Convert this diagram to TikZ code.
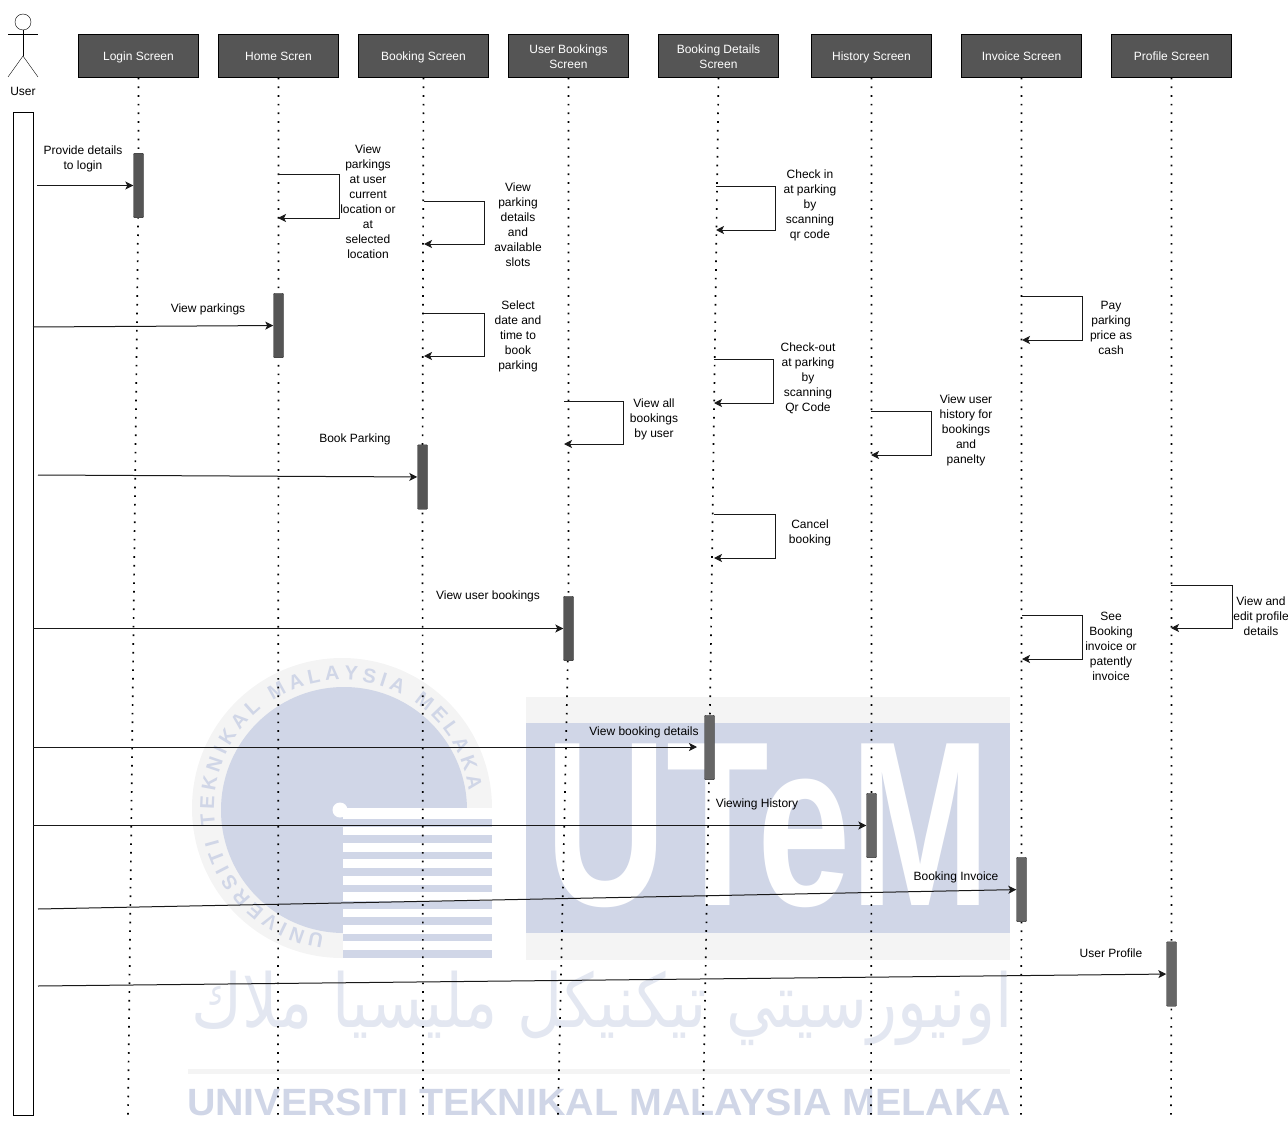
\documentclass[tikz,border=0pt]{standalone}
\usepackage{fontspec}
\usepackage{xcolor}
\usepackage{tikz}
\usetikzlibrary{arrows.meta,decorations.text}
\setmainfont{Liberation Sans}
\newfontfamily\jawifont[Script=Arabic]{DejaVu Sans}
\TeXXeTstate=1
\definecolor{headfill}{HTML}{555555}
\definecolor{wmblue}{HTML}{D0D6E7}
\definecolor{wmpale}{HTML}{F4F4F4}
\tikzset{
  lbl/.style={font=\fontsize{12}{15}\selectfont,align=center,inner sep=0pt,yshift=-0.7pt},
  headbox/.style={draw=black,fill=headfill,text=white,minimum height=43pt,inner sep=0pt,align=center,font=\fontsize{12}{15}\selectfont},
  barbox/.style={draw=black!80,fill=headfill,rounded corners=1pt,minimum width=10pt,minimum height=64.5pt,inner sep=0pt},
  lifeline/.style={line width=1.7pt,dash pattern=on 1.7pt off 7pt},
  msg/.style={->,line width=1pt,draw=black!90},
}
\newcommand{\headnode}[4]{
  \node[headbox,minimum width=#3pt] (#1) at #2 {\rule{0pt}{11.5pt}#4\vphantom{g}};
}
\newcommand{\selfcall}[5]{
  \coordinate (#1s) at (#2,#3);
  \coordinate (#1c) at (#4,#5);
  \coordinate (#1e) at (#2,#5);
  \draw[msg] (#1s) -| (#1c) -- (#1e);
}
\newcommand{\usercall}[3]{
  \coordinate (#1) at #2;
  \draw[msg] (#1) -- (#3);
}

\begin{document}
\begin{tikzpicture}[x=1pt,y=-1pt,>={Stealth[length=8pt,width=8pt,inset=2pt]}]
  \useasboundingbox (0,0) rectangle (1288,1121);
  % watermark
  \coordinate (wmcentre) at (342,808);
  \fill[wmpale] (wmcentre) circle[radius=150pt];
  \fill[wmblue] (344,810) circle[radius=123pt];
  \fill[white] (343,808) rectangle (495,960);
  \foreach \i in {0,...,8}
    \fill[wmblue] (343,{819+16.4*\i}) rectangle (492,{826.5+16.4*\i});
  \node[circle,fill=white,minimum size=15pt,inner sep=0pt] (wmdot) at (340,810) {};
  \path[decorate,decoration={text along path,text align={fit to path},
    text={|\fontsize{20}{20}\selectfont\bfseries\color{wmblue}|UNIVERSITI TEKNIKAL MALAYSIA MELAKA}}]
    (wmcentre) ++(262:128pt) arc[start angle=262,end angle=8,radius=128pt];
  \fill[wmpale] (526,697) rectangle (1010,960);
  \fill[wmblue] (526,723) rectangle (1010,933);
  \node[inner sep=0pt,xscale=0.715,text=white,font=\fontsize{235}{235}\selectfont\bfseries] (wmutem) at (768,826) {UTeM};
  \node[inner sep=0pt,yscale=1.2,text=wmblue!60,font=\fontsize{62}{62}\selectfont\jawifont] (wmjawi) at (602,1008) {\beginR اونيورسيتي تيكنيكل مليسيا ملاك\endR};
  \fill[wmpale] (188,1069) rectangle (1010,1074);
  \node[inner sep=0pt,xscale=1.037,text=wmblue,font=\fontsize{38}{38}\selectfont\bfseries] (wmname) at (599,1102) {UNIVERSITI TEKNIKAL MALAYSIA MELAKA};
  % actor
  \node[circle,draw,minimum size=16pt,inner sep=0pt] (userhead) at (23,22) {};
  \coordinate (armL) at (8,34);
  \coordinate (armR) at (38,34);
  \coordinate (hip) at (23,56);
  \coordinate (legL) at (8,77);
  \coordinate (legR) at (38,77);
  \draw (userhead) -- (hip);
  \draw (armL) -- (armR);
  \draw (legL) -- (hip) -- (legR);
  \node[lbl] (userlabel) at (23,91) {User};
  \node[draw=black,fill=white,minimum width=20pt,minimum height=1003pt,inner sep=0pt] (userbox) at (23.5,613.5) {};
  % screens
  \headnode{login}{(138.5,56)}{120}{Login Screen}
  \headnode{home}{(278.5,56)}{120}{Home Scren}
  \headnode{booking}{(423.5,56)}{130}{Booking Screen}
  \headnode{userbook}{(568.5,56)}{120}{User Bookings\\Screen}
  \headnode{details}{(718.5,56)}{120}{Booking Details\\Screen}
  \headnode{history}{(871.5,56)}{120}{History Screen}
  \headnode{invoice}{(1021.5,56)}{120}{Invoice Screen}
  \headnode{profile}{(1171.5,56)}{120}{Profile Screen}
  % activation bars
  \coordinate (loginend) at (128,1115);
  \coordinate (homeend) at (278,1115);
  \coordinate (bookingend) at (423,1115);
  \coordinate (userbookend) at (558,1115);
  \coordinate (detailsend) at (703,1115);
  \coordinate (historyend) at (871,1115);
  \coordinate (invoiceend) at (1021,1115);
  \coordinate (profileend) at (1171,1115);
  \coordinate (loginbar) at (138.5,185.5);
  \coordinate (homebar) at (278.5,325.5);
  \coordinate (bookingbar) at (422.5,477);
  \coordinate (userbookbar) at (568.5,628.5);
  \coordinate (detailsbar) at (709.5,747.5);
  \coordinate (historybar) at (871.5,825.5);
  \coordinate (invoicebar) at (1021.5,889.5);
  \coordinate (profilebar) at (1171.5,974);
  \foreach \s in {login,home,booking,userbook,details,history,invoice,profile}
    \draw[lifeline] (\s.south) -- (\s bar) -- (\s end);
  \node[barbox] (loginact) at (loginbar) {};
  \node[barbox] (homeact) at (homebar) {};
  \node[barbox] (bookingact) at (bookingbar) {};
  \node[barbox] (userbookact) at (userbookbar) {};
  \node[barbox,fill=black!60] (detailsact) at (detailsbar) {};
  \node[barbox,fill=black!60] (historyact) at (historybar) {};
  \node[barbox,fill=black!60] (invoiceact) at (invoicebar) {};
  \node[barbox,fill=black!60] (profileact) at (profilebar) {};
  % user calls
  \usercall{ua}{(37,185.5)}{loginact}
  \usercall{ub}{(33,327)}{homeact}
  \usercall{uc}{(38,475)}{bookingact}
  \usercall{ud}{(33,628.5)}{userbookact}
  \coordinate (detailstip) at (697,747);
  \usercall{ue}{(33,747)}{detailstip}
  \usercall{uf}{(33,825.5)}{historyact}
  \usercall{ug}{(38,909)}{invoiceact}
  \usercall{uh}{(38,986)}{profileact}
  \node[lbl] (la) at (83,158.5) {Provide details\\to login};
  \node[lbl] (lb) at (208,309) {View parkings};
  \node[lbl] (lc) at (355,439) {Book Parking};
  \node[lbl] (ld) at (488,596) {View user bookings};
  \node[lbl] (le) at (644,732) {View booking details};
  \node[lbl] (lf) at (757,804) {Viewing History};
  \node[lbl] (lg) at (956,877) {Booking Invoice};
  \node[lbl] (lh) at (1111,953) {User Profile};
  % self calls
  \selfcall{sa}{278}{175}{339}{218}
  \selfcall{sb}{424}{201}{484}{244}
  \selfcall{sc}{424}{313}{484}{356}
  \selfcall{sd}{564}{401}{623}{444}
  \selfcall{se}{716}{186}{775}{230}
  \selfcall{sf}{714}{359}{773}{403}
  \selfcall{sg}{714}{514}{775}{558}
  \selfcall{sh}{871}{411}{931}{455}
  \selfcall{si}{1022}{296}{1082}{340}
  \selfcall{sj}{1022}{615}{1082}{659}
  \selfcall{sk}{1171}{585}{1232}{628}
  \node[lbl] (ta) at (368,201.5) {View\\parkings\\at user\\current\\location or\\at\\selected\\location};
  \node[lbl] (tb) at (518,224.5) {View\\parking\\details\\and\\available\\slots};
  \node[lbl] (tc) at (518,336) {Select\\date and\\time to\\book\\parking};
  \node[lbl] (td) at (654,419) {View all\\bookings\\by user};
  \node[lbl] (te) at (810,205) {Check in\\at parking\\by\\scanning\\qr code};
  \node[lbl] (tf) at (808,378) {Check-out\\at parking\\by\\scanning\\Qr Code};
  \node[lbl] (tg) at (810,532.5) {Cancel\\booking};
  \node[lbl] (th) at (966,430) {View user\\history for\\bookings\\and\\panelty};
  \node[lbl] (ti) at (1111,327.5) {Pay\\parking\\price as\\cash};
  \node[lbl] (tj) at (1111,646) {See\\Booking\\invoice or\\patently\\invoice};
  \node[lbl] (tk) at (1261,616) {View and\\edit profile\\details};
\end{tikzpicture}
\end{document}
